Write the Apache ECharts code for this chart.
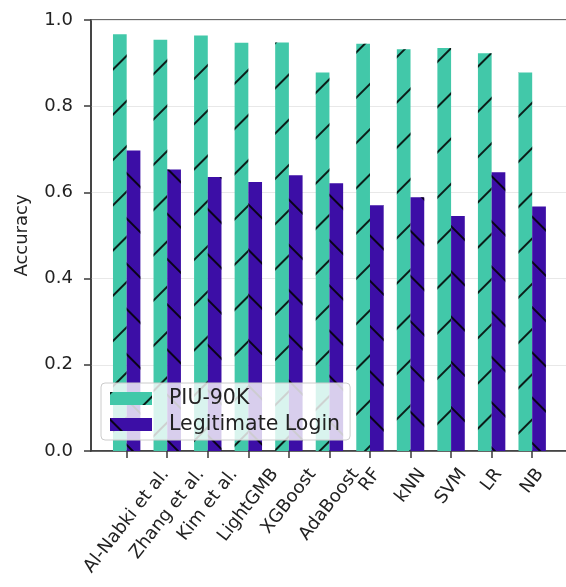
<!DOCTYPE html>
<html>
<head>
<meta charset="utf-8">
<script src="https://cdn.jsdelivr.net/npm/echarts@6/dist/echarts.min.js"></script>
<style>html,body{margin:0;padding:0;background:#fff;overflow:hidden;}#c{width:620px;height:587px;}</style>
</head>
<body>
<div id="c"></div>
<script>
const categories = ['Al-Nabki et al.', 'Zhang et al.', 'Kim et al.', 'LightGMB', 'XGBoost', 'AdaBoost', 'RF', 'kNN', 'SVM', 'LR', 'NB'];
const piu90k = [0.967, 0.954, 0.964, 0.947, 0.948, 0.878, 0.945, 0.932, 0.935, 0.923, 0.878];
const legitLogin = [0.697, 0.653, 0.636, 0.624, 0.640, 0.621, 0.570, 0.589, 0.545, 0.647, 0.567];
const seriesNames = ['PIU-90K', 'Legitimate Login'];
const yTicks = [0, 0.2, 0.4, 0.6, 0.8, 1.0];

const FONT = 'DejaVu Sans';
const FS = 18;
const gridLeft = 91, gridTop = 20, gridWidth = 500, gridHeight = 431;
const xMin = -0.88;
const pxPerUnit = 40.55;
const xMax = xMin + gridWidth / pxPerUnit;
const ROT = 52;

const ctx = document.createElement('canvas').getContext('2d');
ctx.font = FS + 'px "' + FONT + '"';
const labelPos = categories.map((c, i) => {
  const w = ctx.measureText(c).width;
  return i + (w / 2) * Math.cos(ROT * Math.PI / 180) / pxPerUnit;
});
const tickPos = categories.map((c, i) => i);

const chart = echarts.init(document.getElementById('c'), null, {renderer: 'canvas'});
const hatch = (rot) => ({
  symbol: 'rect', symbolSize: 1,
  dashArrayX: [[1, 0]], dashArrayY: [2, 30],
  rotation: rot, color: 'rgba(0,0,0,0.85)'
});
chart.setOption({
  animation: false,
  backgroundColor: '#fff',
  textStyle: {fontFamily: FONT},
  grid: {left: gridLeft, top: gridTop, width: gridWidth, height: gridHeight, show: true,
         borderColor: '#3a3a3a', borderWidth: 1.5, backgroundColor: 'transparent'},
  legend: {
    orient: 'vertical', left: 101, top: 383,
    itemWidth: 42, itemHeight: 13, itemGap: 5,
    padding: [5, 10, 5, 9],
    backgroundColor: 'rgba(255,255,255,0.8)', borderColor: '#cccccc', borderWidth: 1, borderRadius: 4,
    textStyle: {fontSize: 20.5, color: '#222', fontFamily: FONT, padding: [0, 0, 0, 12]},
    icon: 'rect',
    data: seriesNames
  },
  xAxis: {
    type: 'value', min: xMin, max: xMax,
    splitLine: {show: false},
    axisLine: {show: true, onZero: false, lineStyle: {color: '#3a3a3a', width: 1.5}},
    axisTick: {show: true, inside: false, length: 7, customValues: tickPos, lineStyle: {color: '#3a3a3a', width: 1.5}},
    axisLabel: {
      customValues: labelPos, rotate: ROT, margin: 20, fontSize: FS, color: '#222', fontFamily: FONT,
      formatter: (v) => {
        let best = 0;
        labelPos.forEach((p, i) => { if (Math.abs(p - v) < Math.abs(labelPos[best] - v)) best = i; });
        return categories[best];
      }
    }
  },
  yAxis: {
    type: 'value', min: 0, max: 1, interval: 0.2,
    name: 'Accuracy', nameLocation: 'middle', nameRotate: 90, nameGap: 60,
    nameTextStyle: {fontSize: FS, color: '#222', fontFamily: FONT},
    axisLine: {show: true, onZero: false, lineStyle: {color: '#3a3a3a', width: 1.5}},
    axisTick: {show: true, length: 7, lineStyle: {color: '#3a3a3a', width: 1.5}},
    axisLabel: {fontSize: FS, color: '#222', margin: 18, fontFamily: FONT,
                formatter: (v) => { const t = yTicks.find(x => Math.abs(x - v) < 1e-6); return (t !== undefined ? t : v).toFixed(1); }},
    splitLine: {show: true, lineStyle: {color: '#e8e8e8', width: 1}}
  },
  series: [
    {
      name: seriesNames[0], type: 'bar', barWidth: 13.7, barGap: '0%',
      data: piu90k.map((v, i) => [i, v]),
      itemStyle: {color: '#42c8a9', decal: hatch(-Math.PI / 4)}
    },
    {
      name: seriesNames[1], type: 'bar', barWidth: 13.7, barGap: '0%',
      data: legitLogin.map((v, i) => [i, v]),
      itemStyle: {color: '#3c0ea6', decal: hatch(Math.PI / 4)}
    }
  ]
});
</script>
</body>
</html>
